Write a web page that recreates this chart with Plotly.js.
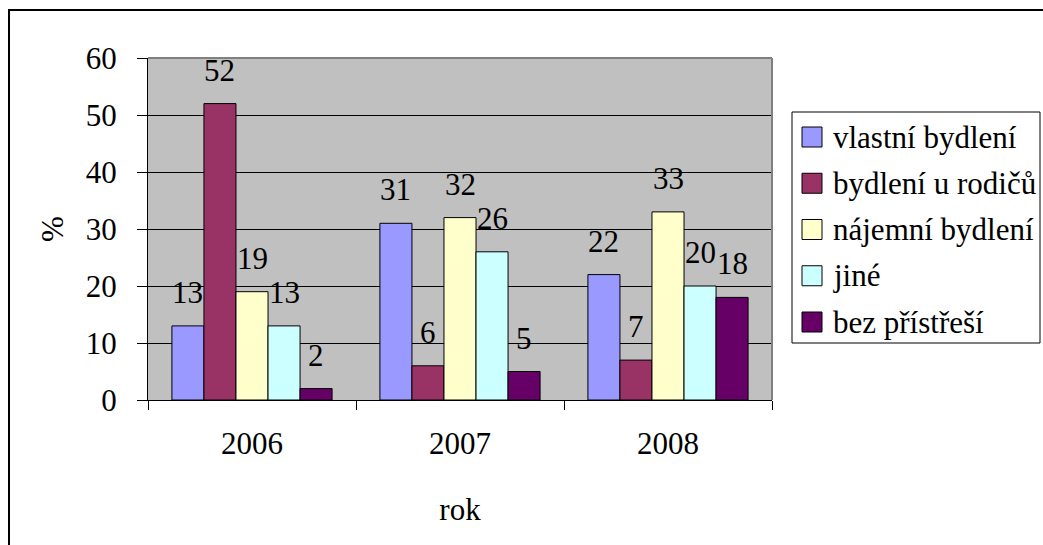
<!DOCTYPE html>
<html>
<head>
<meta charset="utf-8">
<script src="https://cdn.plot.ly/plotly-3.0.1.min.js"></script>
<style>
  html, body { margin: 0; padding: 0; background: #ffffff; }
  #wrap { position: relative; width: 1043px; height: 545px; overflow: hidden; }
  #frame { position: absolute; left: 8px; top: 9px; width: 1100px; height: 600px;
           border-left: 2px solid #000; border-top: 2px solid #000; }
  #chart { position: absolute; left: 0; top: 0; width: 1043px; height: 545px; }
</style>
</head>
<body>
<div id="wrap"><div id="frame"></div><div id="chart"></div></div>
<script>
// Categories (years) and the share of each housing type, in %
const years = ['2006', '2007', '2008'];
const seriesNames = ['vlastní bydlení', 'bydlení u rodičů', 'nájemní bydlení', 'jiné', 'bez přístřeší'];
const vlastniBydleni = [13, 31, 22];
const bydleniURodicu = [52, 6, 7];
const najemniBydleni = [19, 32, 33];
const jine = [13, 26, 20];
const bezPristresi = [2, 5, 18];
const yTickVals = [0, 10, 20, 30, 40, 50, 60];

const seriesValues = [vlastniBydleni, bydleniURodicu, najemniBydleni, jine, bezPristresi];
const seriesColors = ['#9999FF', '#993366', '#FFFFCC', '#CCFFFF', '#660066'];

const FONT = 'Liberation Serif';
const FS = 31;
const BARGAP = 0.23;

// plot-area geometry in pixels, used to place the hand-drawn legend
const W = 1043, H = 545;
const M = { l: 148, r: 271, t: 58, b: 145 };
const PW = W - M.l - M.r, PH = H - M.t - M.b;
const px = x => (x - M.l) / PW;
const py = y => (H - M.b - y) / PH;

const traces = seriesValues.map((vals, s) => ({
  type: 'bar',
  name: seriesNames[s],
  x: years,
  y: vals,
  marker: { color: seriesColors[s], line: { color: '#000', width: 1 } },
  showlegend: false,
  hoverinfo: 'skip'
}));

// value labels above each bar, centred on the bar's slot within its group
const annotations = [];
const nS = seriesValues.length;
const bw = (1 - BARGAP) / nS;
seriesValues.forEach((vals, s) => {
  vals.forEach((v, i) => {
    annotations.push({
      xref: 'x', yref: 'y',
      x: i + (s - (nS - 1) / 2) * bw, y: v,
      text: String(v), showarrow: false,
      xanchor: 'center', yanchor: 'bottom', yshift: 14,
      font: { family: FONT, size: FS, color: '#000' }
    });
  });
});

// legend: framed box with square swatches
const shapes = [];
const legTop = 112, legBottom = 343, legLeft = 792, legRight = 1040;
shapes.push({
  type: 'rect', xref: 'paper', yref: 'paper',
  x0: px(legLeft), x1: px(legRight), y0: py(legBottom), y1: py(legTop),
  line: { color: '#000', width: 1 }, fillcolor: '#ffffff', layer: 'above'
});
seriesNames.forEach((name, s) => {
  const cy = 137 + s * 46.25;
  shapes.push({
    type: 'rect', xref: 'paper', yref: 'paper',
    x0: px(802), x1: px(822), y0: py(cy + 10), y1: py(cy - 10),
    line: { color: '#000', width: 1 }, fillcolor: seriesColors[s], layer: 'above'
  });
  annotations.push({
    xref: 'paper', yref: 'paper', x: px(831), y: py(cy),
    text: name, showarrow: false, xanchor: 'left', yanchor: 'middle',
    font: { family: FONT, size: FS, color: '#000' }
  });
});

// top and right edges of the plot area
shapes.push({ type: 'line', xref: 'paper', yref: 'paper', x0: 0, x1: 1, y0: 1, y1: 1,
              line: { color: '#808080', width: 2 }, layer: 'above' });
shapes.push({ type: 'line', xref: 'paper', yref: 'paper', x0: 1, x1: 1, y0: 0, y1: 1,
              line: { color: '#808080', width: 2 }, layer: 'above' });

const layout = {
  width: W, height: H,
  margin: M,
  paper_bgcolor: 'rgba(0,0,0,0)',
  plot_bgcolor: '#C0C0C0',
  barmode: 'group', bargap: BARGAP, bargroupgap: 0,
  font: { family: FONT, size: FS, color: '#000' },
  showlegend: false,
  xaxis: {
    type: 'category',
    tickson: 'boundaries', ticks: 'outside', ticklen: 9, tickcolor: '#000', tickwidth: 1,
    showline: true, linecolor: '#000', linewidth: 1,
    showgrid: false, zeroline: false,
    tickfont: { family: FONT, size: FS, color: '#000' },
    ticklabelstandoff: 16,
    title: { text: 'rok', font: { family: FONT, size: FS, color: '#000' }, standoff: 38 }
  },
  yaxis: {
    range: [0, 60], tickvals: yTickVals,
    ticks: 'outside', ticklen: 10, tickcolor: '#000', tickwidth: 1,
    showline: true, linecolor: '#000', linewidth: 1,
    showgrid: true, gridcolor: '#000', gridwidth: 1, zeroline: false,
    tickfont: { family: FONT, size: FS, color: '#000' },
    ticklabelstandoff: 14,
    title: { text: '%', font: { family: FONT, size: FS, color: '#000' }, standoff: 12 }
  },
  shapes: shapes,
  annotations: annotations
};

Plotly.newPlot('chart', traces, layout, { displayModeBar: false, staticPlot: true });
</script>
</body>
</html>
